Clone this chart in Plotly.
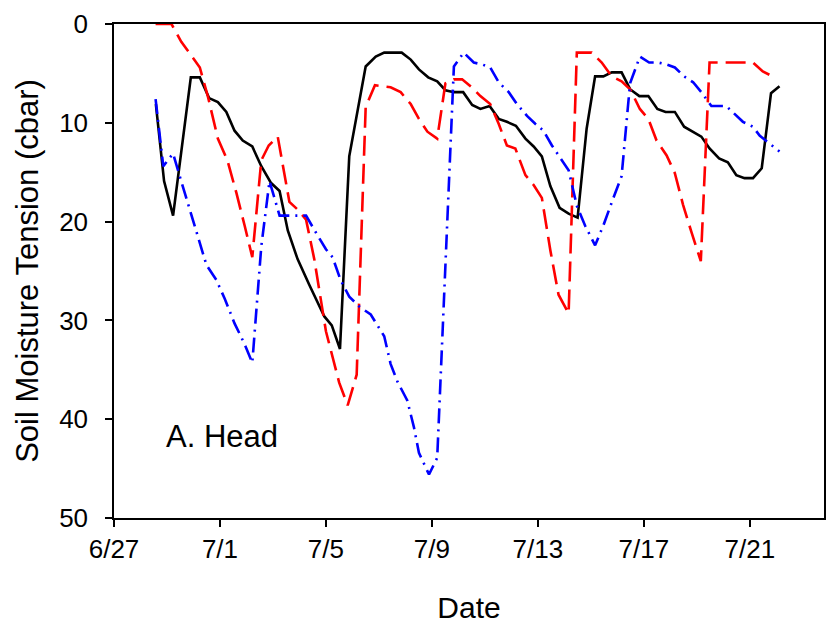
import pandas as pd
import plotly.graph_objects as go

BASE = pd.Timestamp("2000-06-27")

# Day offsets from 6/27 and soil moisture tension (cbar)
black_days = [1.58, 1.89, 2.23, 2.90, 3.24, 3.59, 3.92, 4.24, 4.55, 4.86, 5.22, 5.56, 5.93, 6.25,
              6.56, 6.93, 7.37, 7.75, 7.94, 8.22, 8.53, 8.88, 9.19, 9.50, 9.88, 10.20, 10.86,
              11.20, 11.51, 11.86, 12.20, 12.51, 12.83, 13.18, 13.52, 13.83, 14.18, 14.52, 14.83,
              15.17, 15.53, 15.84, 16.15, 16.47, 16.82, 17.16, 17.50, 17.84, 18.16, 18.47, 18.79,
              19.16, 19.48, 19.83, 20.17, 20.51, 20.82, 21.17, 21.52, 21.83, 22.17, 22.48, 22.84,
              23.17, 23.49, 23.80, 24.12, 24.45, 24.80, 25.12]
black_vals = [8.1, 15.9, 19.4, 5.4, 5.4, 7.5, 7.9, 8.9, 10.8, 11.8, 12.4, 14.4, 16.1, 16.9,
              20.9, 23.8, 26.4, 28.6, 29.6, 30.5, 32.9, 13.4, 8.8, 4.3, 3.3, 2.9, 2.9,
              3.6, 4.6, 5.4, 5.8, 6.7, 6.9, 6.9, 8.2, 8.6, 8.3, 9.6, 9.9,
              10.3, 11.6, 12.4, 13.4, 16.4, 18.6, 19.2, 19.6, 10.6, 5.3, 5.3, 4.9,
              4.9, 6.6, 7.3, 7.3, 8.6, 8.9, 8.9, 10.4, 10.9, 11.4, 12.6, 13.6,
              14.0, 15.3, 15.6, 15.6, 14.6, 7.0, 6.3]

red_days = [1.57, 2.17, 2.54, 3.24, 3.55, 3.92, 4.28, 4.62, 4.93, 5.22, 5.56, 5.84, 6.18, 6.62,
            6.94, 7.25, 7.56, 8.00, 8.50, 8.82, 9.16, 9.50, 9.85, 10.44, 10.82, 11.20, 11.51,
            11.83, 12.20, 12.51, 12.83, 13.14, 13.50, 13.83, 14.20, 14.52, 14.83, 15.15, 15.53,
            15.84, 16.15, 16.47, 16.78, 17.16, 17.47, 18.03, 18.41, 18.79, 19.16, 19.48, 19.85,
            20.17, 20.48, 20.86, 21.17, 21.48, 21.80, 22.15, 22.48, 24.12, 24.49, 24.93]
red_vals = [0.0, 0.0, 1.8, 4.4, 7.4, 11.6, 13.8, 17.1, 20.4, 23.6, 13.8, 12.3, 11.4, 18.0,
            18.8, 19.8, 23.8, 31.1, 36.3, 38.6, 35.5, 8.4, 6.2, 6.4, 6.9, 8.1, 9.6,
            10.9, 11.6, 6.0, 5.6, 5.6, 6.4, 7.3, 8.1, 10.1, 12.3, 12.6, 15.3,
            16.3, 17.6, 22.9, 27.4, 29.3, 2.9, 2.9, 3.9, 5.3, 5.8, 6.6, 8.6,
            9.6, 11.8, 13.3, 15.1, 18.3, 21.1, 24.0, 3.9, 3.9, 4.8, 5.4]

blue_days = [1.57, 1.86, 2.23, 2.48, 3.49, 3.86, 4.18, 4.55, 4.93, 5.22, 5.56, 5.87, 6.25,
             7.25, 7.62, 8.00, 8.25, 8.55, 8.88, 9.26, 9.69, 10.20, 10.44, 10.70, 11.07, 11.32,
             11.51, 11.89, 12.20, 12.83, 13.20, 13.58, 13.90, 14.20, 14.52, 14.90, 15.21, 15.59,
             15.90, 16.21, 16.53, 16.90, 17.16, 17.47, 17.78, 18.16, 18.47, 18.85, 19.16, 19.48,
             19.85, 20.20, 20.54, 20.86, 21.17, 21.52, 21.86, 22.17, 22.55, 23.11, 23.74, 24.12,
             24.37, 25.12]
blue_vals = [7.6, 14.4, 13.1, 15.4, 24.4, 25.9, 27.8, 30.3, 32.4, 34.3, 22.5, 15.9, 19.4,
             19.4, 21.1, 22.8, 23.6, 25.9, 27.6, 28.6, 29.4, 31.6, 34.4, 36.2, 38.1, 40.8,
             43.4, 45.6, 43.9, 4.3, 2.9, 3.9, 4.1, 4.4, 5.9, 6.9, 8.1, 9.3,
             10.1, 10.8, 12.3, 13.8, 14.8, 18.4, 20.4, 22.4, 20.4, 17.6, 15.4, 6.0,
             3.3, 3.9, 3.9, 4.1, 4.4, 5.3, 5.9, 6.9, 8.3, 8.3, 9.9, 10.4,
             11.3, 12.9]

tick_days = [0, 4, 8, 12, 16, 20, 24]
tick_labels = ["6/27", "7/1", "7/5", "7/9", "7/13", "7/17", "7/21"]
y_ticks = [0, 10, 20, 30, 40, 50]


def to_dates(days):
    return [BASE + pd.Timedelta(days=d) for d in days]


fig = go.Figure()
fig.add_trace(go.Scatter(x=to_dates(black_days), y=black_vals, mode="lines",
                         line=dict(color="black", width=2.6), showlegend=False))
fig.add_trace(go.Scatter(x=to_dates(red_days), y=red_vals, mode="lines",
                         line=dict(color="#FF0000", width=2.6, dash="20px,8px"), showlegend=False))
fig.add_trace(go.Scatter(x=to_dates(blue_days), y=blue_vals, mode="lines",
                         line=dict(color="#0000FF", width=2.6, dash="15px,6px,2px,6px"),
                         showlegend=False))

FONT = "Liberation Sans, Arial, sans-serif"

fig.update_layout(
    width=835, height=628,
    margin=dict(l=114, r=9, t=19, b=109),
    plot_bgcolor="white", paper_bgcolor="white",
    font=dict(family=FONT, color="black"),
    annotations=[dict(text="A. Head", x=0.0705, y=0.164, xref="paper", yref="paper",
                      xanchor="left", yanchor="middle", showarrow=False,
                      font=dict(size=31, family=FONT, color="black"))],
)

fig.update_xaxes(
    type="date",
    range=[BASE, BASE + pd.Timedelta(days=26.8)],
    tickvals=to_dates(tick_days), ticktext=tick_labels,
    ticks="outside", ticklen=7, tickwidth=1.5, tickcolor="black",
    showline=True, linecolor="black", linewidth=1.5, mirror=True,
    showgrid=False, zeroline=False,
    tickfont=dict(size=26, family=FONT, color="black"),
    title=dict(text="Date", font=dict(size=30, family=FONT, color="black"), standoff=34),
)
fig.update_yaxes(
    range=[50, 0],
    tickvals=y_ticks,
    ticks="outside", ticklen=7, tickwidth=1.5, tickcolor="black",
    ticklabelstandoff=12,
    showline=True, linecolor="black", linewidth=1.5, mirror=True,
    showgrid=False, zeroline=False,
    tickfont=dict(size=26, family=FONT, color="black"),
    title=dict(text="Soil Moisture Tension (cbar)", font=dict(size=31, family=FONT, color="black"),
               standoff=11),
)

fig.write_html("out.html")
